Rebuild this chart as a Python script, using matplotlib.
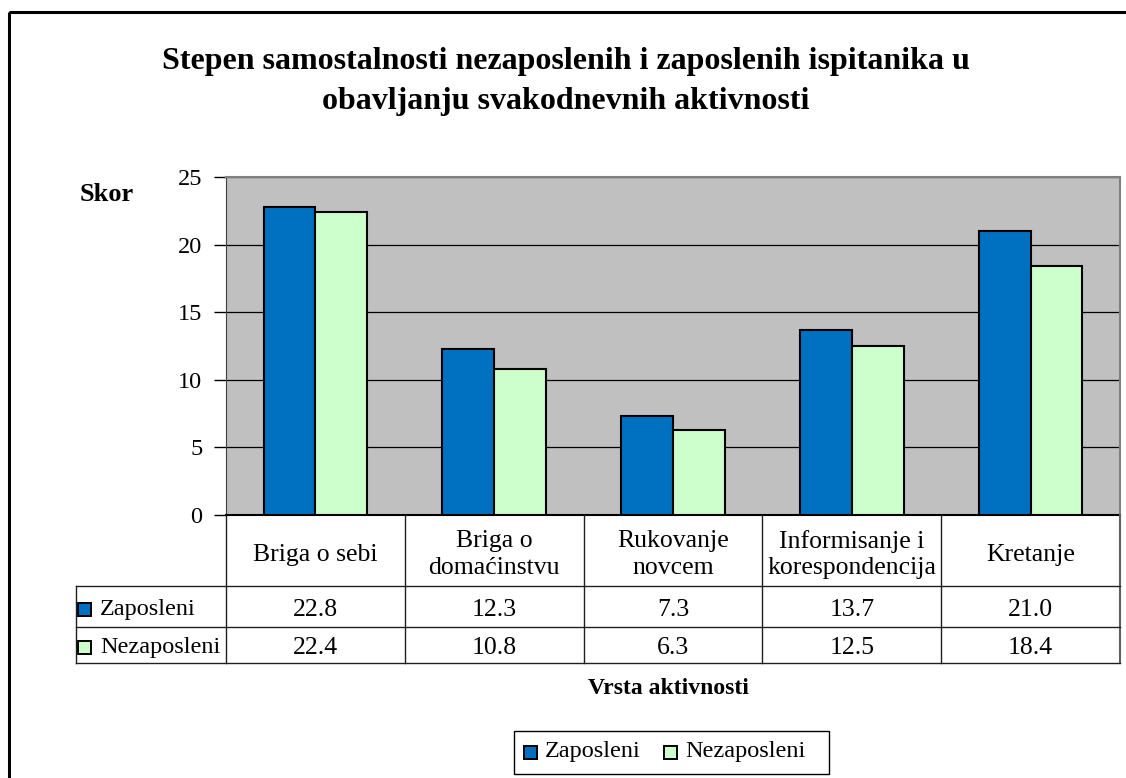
import matplotlib
matplotlib.use("Agg")
import matplotlib.pyplot as plt
from matplotlib.patches import Rectangle
import numpy as np

# ── data ──────────────────────────────────────────────────────────────────────
categories = ["Briga o sebi", "Briga o\ndomaćinstvu", "Rukovanje\nnovcem",
              "Informisanje i\nkorespondencija", "Kretanje"]
series_names = ["Zaposleni", "Nezaposleni"]
zaposleni = [22.8, 12.3, 7.3, 13.7, 21.0]
nezaposleni = [22.4, 10.8, 6.3, 12.5, 18.4]
y_ticks = [0, 5, 10, 15, 20, 25]

title = ("Stepen samostalnosti nezaposlenih i zaposlenih ispitanika u\n"
         "obavljanju svakodnevnih aktivnosti")
x_title = "Vrsta aktivnosti"
y_title = "Skor"

# ── style ─────────────────────────────────────────────────────────────────────
colors = ["#0070C0", "#CCFFCC"]
plt.rcParams["font.family"] = ["Liberation Serif", "DejaVu Serif"]

W, H = 1126, 778
fig = plt.figure(figsize=(W / 100, H / 100), dpi=100)

# plot area in pixels
L, R, T, B = 226, 1120, 177, 515
ax = fig.add_axes([L / W, 1 - B / H, (R - L) / W, (B - T) / H])
ax.set_facecolor("#C0C0C0")

n = len(categories)
x = np.arange(n)
bw = 0.29
for i, vals in enumerate([zaposleni, nezaposleni]):
    ax.bar(x + (i - 0.5) * bw, vals, width=bw, color=colors[i],
           edgecolor="black", linewidth=1.5, zorder=3)

ax.set_xlim(-0.5, n - 0.5)
ax.set_ylim(0, 25)
ax.set_yticks(y_ticks)
ax.set_yticklabels([str(t) for t in y_ticks], fontsize=17.5)
ax.yaxis.grid(True, color="black", linewidth=0.9, zorder=1)
ax.set_xticks([])
ax.tick_params(axis="y", length=9, width=1, pad=8, color="black")
for side in ["top", "right"]:
    ax.spines[side].set_color("#808080")
    ax.spines[side].set_linewidth(1.5)
ax.spines["left"].set_color("#404040")
ax.spines["bottom"].set_color("black")
ax.spines["bottom"].set_linewidth(1.5)

# ── overlay in pixel coordinates for table, titles, legend ───────────────────
ov2 = fig.add_axes([0, 0, 1, 1], zorder=5)
ov2.set_xlim(0, W)
ov2.set_ylim(H, 0)
ov2.axis("off")
ov2.patch.set_alpha(0)

# outer frame
ov2.add_patch(Rectangle((9, 12), W + 20, H + 20, fill=False,
                        edgecolor="black", linewidth=2.2))

ov2.text(566, 81, title, ha="center", va="center", fontsize=23,
         fontweight="bold", linespacing=1.5)
ov2.text(80, 194, y_title, ha="left", va="center", fontsize=19,
         fontweight="bold")

# data table
row_y = [B, 586, 627, 663]
lab_left = 76
colw = (R - L) / n
lc = "#202020"
lw = 1.0
ov2.plot([L, L], [B, row_y[-1]], color=lc, lw=lw)
ov2.plot([R, R], [B, row_y[-1]], color="#606060", lw=1.5)
for k in range(1, n):
    xx = L + k * colw
    ov2.plot([xx, xx], [B, row_y[-1]], color=lc, lw=lw)
for yy in row_y[1:]:
    ov2.plot([lab_left, R], [yy, yy], color=lc, lw=lw)
ov2.plot([lab_left, lab_left], [row_y[1], row_y[-1]], color=lc, lw=lw)

for k, cat in enumerate(categories):
    ov2.text(L + (k + 0.5) * colw, (row_y[0] + row_y[1]) / 2 + 4, cat,
             ha="center", va="center", fontsize=18.5, linespacing=1.25)

for r, (name, vals) in enumerate(zip(series_names, [zaposleni, nezaposleni])):
    yc = (row_y[r + 1] + row_y[r + 2]) / 2 + 3
    ov2.add_patch(Rectangle((78, yc - 7), 13, 13, facecolor=colors[r],
                            edgecolor="black", linewidth=1.4))
    ov2.text(100, yc, name, ha="left", va="center", fontsize=17.5)
    for k, v in enumerate(vals):
        ov2.text(L + (k + 0.5) * colw, yc, f"{v:.1f}", ha="center",
                 va="center", fontsize=18.5)

ov2.text(668, 688, x_title, ha="center", va="center", fontsize=17,
         fontweight="bold")

# legend box
ov2.add_patch(Rectangle((514, 731), 315, 43, fill=False, edgecolor="black",
                        linewidth=1.0))
lx = [524, 664]
for r, name in enumerate(series_names):
    ov2.add_patch(Rectangle((lx[r], 746), 13, 13, facecolor=colors[r],
                            edgecolor="black", linewidth=1.4))
    ov2.text(lx[r] + 21, 752, name, ha="left", va="center", fontsize=17.5)

fig.savefig("out.png", dpi=100, facecolor="white")
